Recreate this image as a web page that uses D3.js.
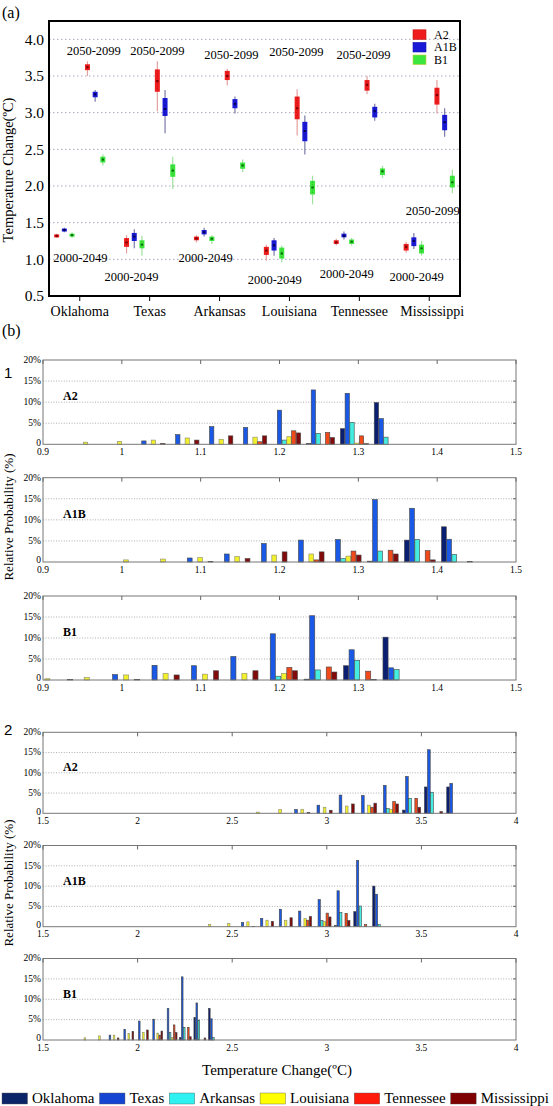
<!DOCTYPE html>
<html><head><meta charset="utf-8">
<script src="https://cdn.jsdelivr.net/npm/d3@7"></script>
<style>body{margin:0;background:#fff}svg{display:block}</style>
</head><body><svg id="c" width="553" height="1106" font-family="'Liberation Serif', Tinos, 'Times New Roman', 'DejaVu Serif', serif"></svg>
<script>
// ---------- DATA ----------
const states = ["Oklahoma","Texas","Arkansas","Louisiana","Tennessee","Mississippi"];
const scenarios = ["A2","A1B","B1"];
const tempTicks = [0.5,1.0,1.5,2.0,2.5,3.0,3.5,4.0];
// box stats per state: [whiskerLow, q1, median, q3, whiskerHigh]
const nearA2  = [[1.29,1.30,1.32,1.34,1.35],[1.08,1.17,1.23,1.29,1.33],[1.23,1.26,1.285,1.31,1.33],[0.98,1.06,1.12,1.17,1.20],[1.19,1.21,1.23,1.26,1.28],[1.09,1.12,1.17,1.21,1.24]];
const nearA1B = [[1.37,1.38,1.40,1.42,1.43],[1.15,1.25,1.31,1.36,1.41],[1.31,1.34,1.37,1.40,1.43],[1.05,1.12,1.19,1.26,1.29],[1.27,1.30,1.32,1.35,1.38],[1.14,1.18,1.25,1.30,1.36]];
const nearB1  = [[1.29,1.31,1.33,1.35,1.37],[1.05,1.15,1.20,1.26,1.32],[1.21,1.25,1.28,1.31,1.33],[0.96,1.01,1.08,1.16,1.19],[1.19,1.21,1.24,1.27,1.29],[1.05,1.08,1.15,1.20,1.25]];
const farA2   = [[3.50,3.58,3.62,3.66,3.70],[3.02,3.285,3.43,3.59,3.70],[3.37,3.445,3.50,3.57,3.60],[2.69,2.91,3.06,3.22,3.32],[3.25,3.30,3.38,3.445,3.50],[2.99,3.11,3.24,3.34,3.445]];
const farA1B  = [[3.15,3.21,3.25,3.285,3.31],[2.72,2.955,3.05,3.20,3.31],[2.99,3.06,3.12,3.185,3.22],[2.43,2.61,2.75,2.875,2.96],[2.89,2.935,3.02,3.08,3.12],[2.67,2.76,2.87,2.97,3.06]];
const farB1   = [[2.28,2.32,2.36,2.40,2.43],[1.96,2.125,2.21,2.295,2.40],[2.19,2.235,2.28,2.32,2.36],[1.75,1.885,1.98,2.07,2.14],[2.11,2.15,2.20,2.24,2.275],[1.90,1.98,2.05,2.14,2.22]];
// period annotations: [state, offset in category steps, temperature]
const farLabels  = [["Oklahoma",0.2,3.84],["Texas",0.11,3.84],["Arkansas",0.17,3.785],["Louisiana",0.1,3.83],["Tennessee",0.06,3.785],["Mississippi",0.05,1.66]];
const nearLabels = [["Oklahoma",0.01,1.03],["Texas",-0.26,0.77],["Arkansas",-0.2,1.03],["Louisiana",-0.21,0.72],["Tennessee",-0.18,0.80],["Mississippi",-0.18,0.77]];

// histograms (relative probability %, per bin: Oklahoma..Mississippi)
const probTicks = [0,5,10,15,20];
const p1Ticks = [0.9,1,1.1,1.2,1.3,1.4,1.5];
const p2Ticks = [1.5,2,2.5,3,3.5,4];
const h1A2Bins = [0.951,0.994,1.037,1.080,1.123,1.166,1.209,1.252,1.295,1.338];
const h1A2Vals = [[0,0,0,0.5,0,0],[0,0,0,0.7,0,0],[0,0.8,0,1.0,0,0.2],[0,2.3,0,1.5,0,1.0],[0,4.2,0,1.2,0,2.0],[0,4.0,0,1.7,0.6,2.0],[0,8.1,1.0,1.8,3.2,2.7],[0.2,12.9,2.6,0,2.8,1.6],[3.7,12.1,5.2,0.3,2.0,0.15],[9.9,6.1,1.7,0,0,0]];
const h1A1BBins = [1.002,1.049,1.096,1.143,1.190,1.237,1.284,1.331,1.378,1.425];
const h1A1BVals = [[0,0,0,0.5,0,0],[0,0,0,0.7,0,0],[0,0.95,0,1.1,0,0.1],[0,1.9,0,1.3,0,0.8],[0,4.4,0,1.65,0,2.4],[0,5.2,0,1.9,0.5,2.4],[0,5.35,0.8,1.4,2.6,1.65],[0.2,14.8,2.6,0,2.8,1.9],[5.2,12.75,5.35,0,2.7,0.5],[8.35,5.4,1.8,0,0,0.15]];
const h1B1Bins = [0.902,0.952,1.002,1.052,1.102,1.152,1.202,1.252,1.302,1.352];
const h1B1Vals = [[0,0,0,0.3,0,0],[0.1,0,0,0.6,0,0],[0,1.3,0,1.2,0,0.1],[0,3.5,0,1.6,0,1.2],[0,3.4,0,1.4,0,2.2],[0,5.6,0,1.6,0,2.2],[0,11.0,0.9,1.6,3.0,2.2],[0.2,15.3,2.4,0,3.1,1.9],[3.4,7.2,4.7,0,2.1,0.1],[10.2,2.9,2.5,0,0,0]];
const h2A2Bins = [2.628,2.745,2.862,2.980,3.097,3.215,3.331,3.448,3.564,3.682];
const h2A2Vals = [[0,0,0,0.3,0,0],[0,0,0,0.9,0,0],[0,0.9,0,1.0,0,0.2],[0,2.0,0,1.5,0,0.75],[0,4.5,0,1.8,0,2.3],[0,4.4,0,2.0,1.5,2.5],[0,6.9,1.2,1.0,2.9,2.3],[0.8,9.1,3.7,0,3.7,1.5],[6.5,15.7,5.2,0,0,0.4],[6.5,7.4,0,0,0,0]];
const h2A1BBins = [2.374,2.475,2.576,2.677,2.776,2.878,2.981,3.081,3.184,3.284];
const h2A1BVals = [[0,0,0,0.6,0,0],[0,0,0,0.8,0,0],[0,1.0,0,1.2,0,0.1],[0,2.05,0,1.6,0,1.3],[0,4.3,0,1.6,0,2.2],[0,3.85,0,2.0,1.6,2.5],[0,6.7,1.55,1.3,3.35,2.4],[0.3,8.85,3.5,0,3.3,1.5],[3.7,16.3,5.1,0,0.5,0],[10.0,8.0,0.5,0,0,0]];
const h2B1Bins = [1.716,1.793,1.870,1.948,2.025,2.101,2.177,2.252,2.329,2.406];
const h2B1Vals = [[0,0,0,0.55,0,0],[0,0,0,1.0,0,0],[0,1.2,0,1.2,0,0.5],[0,2.6,0,1.55,0,2.1],[0,4.65,0,1.9,0,2.45],[0,5.1,0,1.7,1.2,2.2],[0,7.75,1.8,0.6,3.7,1.8],[0.6,15.5,3.1,0,3.1,0.8],[5.5,9.1,4.9,0,0,0.5],[7.75,5.2,0.6,0,0,0]];

// ---------- STYLE ----------
const scenFill = {A2:"#ee1c1c",A1B:"#1a1ad6",B1:"#3de63d"};
const scenWhisk = {A2:"#e4a0a0",A1B:"#7a7aa8",B1:"#9ee09e"};
const scenMed = {A2:"#7a0000",A1B:"#000055",B1:"#0a6a0a"};
const barColors = ["#0b1f72","#1a58e6","#45ede0","#f2f02a","#f04a1a","#820a0a"];
const legColors = ["#0c2468","#1444d2","#2ef2f2","#ffff00","#ff1a0a","#7e0000"];
const SANS = "'Liberation Sans', Arimo, Arial, sans-serif";

const svg = d3.select("#c");
svg.append("rect").attr("width",553).attr("height",1106).attr("fill","#fff");

// ---------- PANEL (a) ----------
const ax = {l:49,r:460,t:21,b:296};
const x = d3.scalePoint().domain(states).range([ax.l,ax.r]).padding(0.44);
const slot = d3.scalePoint().domain(["nA2","nA1B","nB1","gap","fA2","fA1B","fB1"]).range([-23.1,23.1]);
const y = d3.scaleLinear().domain([0.5,4.25]).range([ax.b,ax.t]);
const ga = svg.append("g");
ga.append("text").attr("x",2).attr("y",18).attr("font-size",16).text("(a)");
ga.selectAll("line.grid").data(tempTicks.filter(d=>d>0.5)).join("line")
  .attr("x1",ax.l).attr("x2",ax.r).attr("y1",d=>y(d)).attr("y2",d=>y(d))
  .attr("stroke","#a8a8c0").attr("stroke-width",1).attr("stroke-dasharray","1.5,2.5");
ga.selectAll("text.yt").data(tempTicks).join("text")
  .attr("x",44).attr("y",d=>y(d)).attr("dy","0.35em").attr("text-anchor","end")
  .attr("font-size",15.5).text(d=>d.toFixed(1));
ga.selectAll("line.xt").data(states).join("line")
  .attr("x1",d=>x(d)).attr("x2",d=>x(d)).attr("y1",ax.b).attr("y2",ax.b+5).attr("stroke","#000");
ga.selectAll("text.xl").data(states).join("text")
  .attr("x",d=>x(d)+(d==="Mississippi"?3:0)).attr("y",316).attr("text-anchor","middle").attr("font-size",14).text(d=>d);
ga.append("text").attr("transform",`translate(13,170) rotate(-90)`).attr("text-anchor","middle")
  .attr("font-size",14.5).text("Temperature Change(ºC)");

const sets = [["nA2","A2",nearA2],["nA1B","A1B",nearA1B],["nB1","B1",nearB1],["fA2","A2",farA2],["fA1B","A1B",farA1B],["fB1","B1",farB1]];
sets.forEach(([s,sc,arr])=>{
  arr.forEach((b,i)=>{
    const cx = x(states[i])+slot(s);
    ga.append("line").attr("x1",cx).attr("x2",cx).attr("y1",y(b[0])).attr("y2",y(b[4]))
      .attr("stroke",scenWhisk[sc]).attr("stroke-width",1.2);
    ga.append("rect").attr("x",cx-2.5).attr("width",5).attr("y",y(b[3])).attr("height",Math.max(3,y(b[1])-y(b[3])))
      .attr("fill",scenFill[sc]);
    ga.append("line").attr("x1",cx).attr("x2",cx).attr("y1",y(b[3])+1).attr("y2",y(b[1])-1)
      .attr("stroke",scenMed[sc]).attr("stroke-width",0.6).attr("stroke-dasharray","1,1.5").attr("opacity",0.6);
    ga.append("rect").attr("x",cx-1.2).attr("width",2.4).attr("y",y(b[2])-1).attr("height",2).attr("fill",scenMed[sc]);
  });
});
ga.selectAll("text.far").data(farLabels).join("text")
  .attr("x",d=>x(d[0])+d[1]*x.step()).attr("y",d=>y(d[2])).attr("dy","0.35em")
  .attr("text-anchor","middle").attr("font-size",12.5).text("2050-2099");
ga.selectAll("text.near").data(nearLabels).join("text")
  .attr("x",d=>x(d[0])+d[1]*x.step()).attr("y",d=>y(d[2])).attr("dy","0.35em")
  .attr("text-anchor","middle").attr("font-size",12.5).text("2000-2049");
// legend (a)
scenarios.forEach((sc,i)=>{
  const cy = 34.6+i*12.6;
  ga.append("rect").attr("x",413).attr("y",cy-4.8).attr("width",13).attr("height",9.6)
    .attr("fill",scenFill[sc]).attr("stroke",sc==="B1"?"#c8d040":d3.color(scenFill[sc]).darker(0.6)).attr("stroke-width",0.6);
  ga.append("text").attr("x",434).attr("y",cy).attr("dy","0.35em").attr("font-size",12).text(sc);
});
ga.append("rect").attr("x",ax.l).attr("y",ax.t).attr("width",ax.r-ax.l).attr("height",ax.b-ax.t)
  .attr("fill","none").attr("stroke","#000").attr("stroke-width",2);

// ---------- PANEL (b) ----------
svg.append("text").attr("x",2).attr("y",336).attr("font-size",16).text("(b)");
svg.append("text").attr("x",4).attr("y",378).attr("font-size",15).attr("font-family",SANS).text("1");
svg.append("text").attr("x",4).attr("y",735).attr("font-size",15).attr("font-family",SANS).text("2");
svg.append("text").attr("transform","translate(13,517) rotate(-90)").attr("text-anchor","middle").attr("font-size",13).text("Relative Probability (%)");
svg.append("text").attr("transform","translate(13,883) rotate(-90)").attr("text-anchor","middle").attr("font-size",13).text("Relative Probability (%)");

function hist(top,height,xDom,xTicks,bins,vals,name){
  const g = svg.append("g");
  const L=43,R=516;
  const hx = d3.scaleLinear().domain(xDom).range([L,R]);
  const hy = d3.scaleLinear().domain([0,20]).range([top+height,top]);
  g.selectAll("line.g").data(probTicks.filter(d=>d>0&&d<20)).join("line")
    .attr("x1",L).attr("x2",R).attr("y1",d=>hy(d)).attr("y2",d=>hy(d))
    .attr("stroke","#999").attr("stroke-width",0.8).attr("stroke-dasharray","1,1.6");
  const step = (bins[1]-bins[0])*0.14;
  const bw = hx(xDom[0]+step)-hx(xDom[0]);
  bins.forEach((c,bi)=>{
    vals[bi].forEach((v,j)=>{
      if(v<=0) return;
      const cx = hx(c+(j-2.5)*step);
      g.append("rect").attr("x",cx-bw/2+0.2).attr("width",Math.max(1,bw-0.4))
        .attr("y",hy(v)).attr("height",hy(0)-hy(v))
        .attr("fill",barColors[j]).attr("stroke",j===3?"#8a8a70":"#444").attr("stroke-width",0.6);
    });
  });
  g.append("rect").attr("x",L).attr("y",top).attr("width",R-L).attr("height",height)
    .attr("fill","none").attr("stroke","#777").attr("stroke-width",1);
  g.selectAll("line.tt").data(xTicks).join("line")
    .attr("x1",d=>hx(d)).attr("x2",d=>hx(d)).attr("y1",top).attr("y2",top+4).attr("stroke","#666");
  g.selectAll("line.yt").data(probTicks.filter(d=>d>0&&d<20)).join("line")
    .attr("x1",R-3).attr("x2",R).attr("y1",d=>hy(d)).attr("y2",d=>hy(d)).attr("stroke","#666");
  g.selectAll("text.xl").data(xTicks).join("text")
    .attr("x",d=>hx(d)).attr("y",top+height+10.5).attr("text-anchor","middle").attr("font-size",9.5).text(d=>d);
  g.selectAll("text.yl").data(probTicks).join("text")
    .attr("x",L-2).attr("y",d=>hy(d)-(d===0?1.5:0)).attr("dy","0.3em").attr("text-anchor","end").attr("font-size",9.5)
    .text(d=>d===0?"0":d+"%");
  g.append("text").attr("x",L+20).attr("y",top+height*0.43).attr("dy","0.35em").attr("font-size",12)
    .attr("font-weight","bold").text(name);
}
hist(360,84.3,[0.9,1.5],p1Ticks,h1A2Bins,h1A2Vals,"A2");
hist(477.7,84.3,[0.9,1.5],p1Ticks,h1A1BBins,h1A1BVals,"A1B");
hist(596,84,[0.9,1.5],p1Ticks,h1B1Bins,h1B1Vals,"B1");
hist(732.3,81,[1.5,4],p2Ticks,h2A2Bins,h2A2Vals,"A2");
hist(845.5,81.2,[1.5,4],p2Ticks,h2A1BBins,h2A1BVals,"A1B");
hist(958.5,81.5,[1.5,4],p2Ticks,h2B1Bins,h2B1Vals,"B1");

svg.append("text").attr("x",277).attr("y",1075).attr("text-anchor","middle").attr("font-size",15).text("Temperature Change(ºC)");

// bottom legend: lay out items, then spread them across the width
const lg = svg.append("g");
const items = states.map((s,i)=>{
  const it = lg.append("g");
  it.append("rect").attr("x",0).attr("y",1093).attr("width",25.5).attr("height",11).attr("fill",legColors[i])
    .attr("stroke","#555").attr("stroke-width",0.4);
  const t = it.append("text").attr("x",30).attr("y",1103).attr("font-size",15).text(s);
  return {it, w: 30 + t.node().getComputedTextLength()};
});
const total = d3.sum(items,d=>d.w);
const gapL = Math.max(2,(549 - 2 - total)/(items.length-1));
let lx = 2;
items.forEach(d=>{ d.it.attr("transform",`translate(${lx},0)`); lx += d.w + gapL; });
</script></body></html>
